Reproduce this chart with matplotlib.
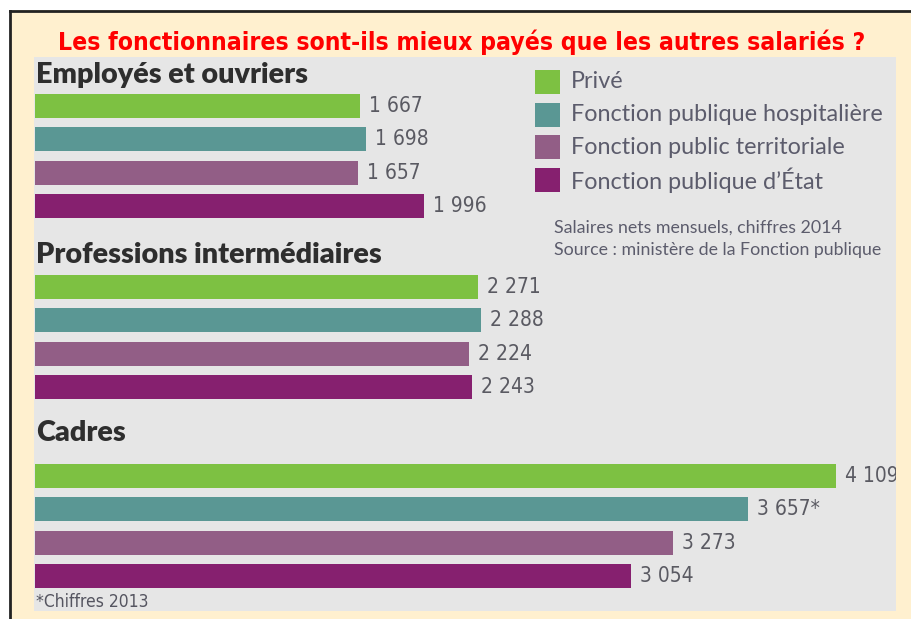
import matplotlib.pyplot as plt
from matplotlib.patches import Rectangle

# data (net monthly salaries, euros)
groups = ['Employés et ouvriers', 'Professions intermédiaires', 'Cadres']
series = ['Privé', 'Fonction publique hospitalière',
          'Fonction public territoriale', 'Fonction publique d\u2019État']
employes = [1667, 1698, 1657, 1996]
intermediaires = [2271, 2288, 2224, 2243]
cadres = [4109, 3657, 3273, 3054]
labels_employes = ['1 667', '1 698', '1 657', '1 996']
labels_intermediaires = ['2 271', '2 288', '2 224', '2 243']
labels_cadres = ['4 109', '3 657*', '3 273', '3 054']

colors = ['#7dc142', '#5a9794', '#925e86', '#86206f']

fig = plt.figure(figsize=(9.12, 6.19), dpi=100, facecolor='#fff0cf')
W, H = 912, 619

# white strips and dark top/left border (cropped screenshot look)
fig.add_artist(Rectangle((0, (H - 10) / H), 1, 10 / H, transform=fig.transFigure,
                         facecolor='white', edgecolor='none'))
fig.add_artist(Rectangle((0, 0), 10 / W, 1, transform=fig.transFigure,
                         facecolor='white', edgecolor='none'))
fig.add_artist(plt.Line2D([10 / W, 1], [(H - 11) / H] * 2, color='#222222', lw=2))
fig.add_artist(plt.Line2D([10 / W] * 2, [0, (H - 11) / H], color='#222222', lw=2))

fig.text(462 / W, 1 - 42 / H, 'Les fonctionnaires sont-ils mieux payés que les autres salariés ?',
         ha='center', va='center', color='#ff0000', fontsize=17.7, fontweight='bold',
         family='DejaVu Sans', fontstretch='condensed')

# gray panel as the axes (y in panel pixels, top down)
ax = fig.add_axes([34 / W, (H - 611) / H, (896 - 34) / W, (611 - 57) / H])
ax.set_facecolor('#e6e6e6')
for s in ax.spines.values():
    s.set_visible(False)
ax.set_xticks([])
ax.set_yticks([])
ax.set_ylim(611, 57)
px = 5.128  # data units per pixel
ax.set_xlim(-1 * px, (896 - 34) * px - px)

group_start = [106, 287, 476]
header_y = [75, 255, 433]
step = 33.5
values = [employes, intermediaires, cadres]
texts = [labels_employes, labels_intermediaires, labels_cadres]

for g, name in enumerate(groups):
    ax.text(1.5 * px, header_y[g], name, ha='left', va='center', fontsize=20.7,
            fontweight='heavy', color='#2e2e2e', family='Lato')
    ys = [group_start[g] + i * step for i in range(len(series))]
    ax.barh(ys, values[g], height=24, color=colors, edgecolor='none')
    for y, v, t in zip(ys, values[g], texts[g]):
        ax.text(v + 9 * px, y, t, ha='left', va='center', fontsize=15,
                color='#5a5a62', family='DejaVu Sans', fontstretch='condensed',
                clip_on=True)

# legend
for i, (name, c) in enumerate(zip(series, colors)):
    y = 82 + i * 32.7
    ax.add_patch(Rectangle(((534 - 34) * px, y - 12), 25 * px, 24,
                           facecolor=c, edgecolor='none'))
    ax.text((570 - 34) * px, y, name, ha='left', va='center', fontsize=16.8,
            color='#5c5c6c', family='Lato')

ax.text((553 - 34) * px, 228, 'Salaires nets mensuels, chiffres 2014', ha='left',
        va='center', fontsize=12.8, color='#5c5c6c', family='Lato')
ax.text((553 - 34) * px, 250, 'Source : ministère de la Fonction publique', ha='left',
        va='center', fontsize=12.8, color='#5c5c6c', family='Lato')
ax.text(1 * px, 602, '*Chiffres 2013', ha='left', va='center', fontsize=12.5,
        color='#555560', family='DejaVu Sans', fontstretch='condensed')

fig.savefig('out.png', dpi=100, facecolor=fig.get_facecolor())
